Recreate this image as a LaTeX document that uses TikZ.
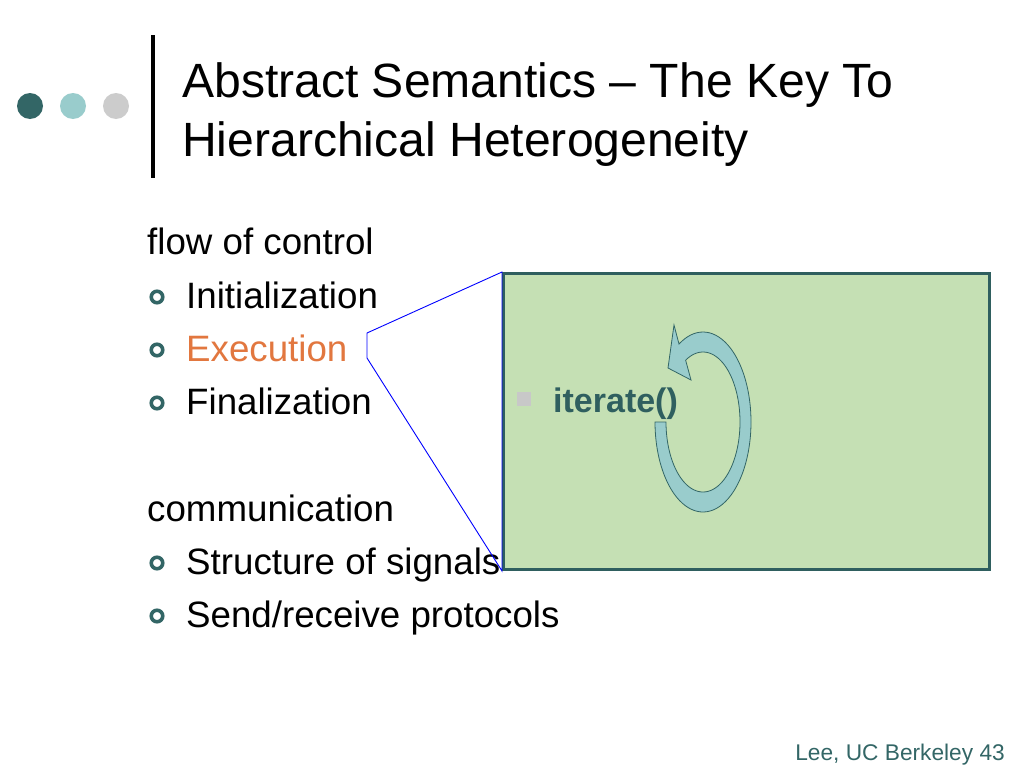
\documentclass[tikz,border=0pt]{standalone}
\usepackage{fontspec}
\setmainfont{Liberation Sans}
\begin{document}
\definecolor{tealdark}{HTML}{336666}
\definecolor{teallight}{HTML}{99CCCC}
\definecolor{dotgray}{HTML}{CCCCCC}
\definecolor{boxfill}{HTML}{C5E0B4}
\definecolor{boxline}{HTML}{2F5F5F}
\definecolor{execorange}{HTML}{E2773F}
\definecolor{sqgray}{HTML}{C8C8C8}
\begin{tikzpicture}[x=1pt,y=-1pt,
  dot/.style={circle,inner sep=0pt,minimum size=26pt},
  titletext/.style={anchor=base west,inner sep=0pt,font=\fontsize{48.1}{50}\selectfont},
  bodytext/.style={anchor=base west,inner sep=0pt,font=\fontsize{36.7}{40}\selectfont},
  hollowbullet/.style={circle,draw=tealdark,line width=3.6pt,inner sep=0pt,minimum size=11.5pt},
  callout/.style={draw=blue,line width=0.9pt},
]
\useasboundingbox (0,0) rectangle (1024,768);
\fill[white] (0,0) rectangle (1024,768);
% header dots and bar
\node[dot,fill=tealdark] (d1) at (30,106) {};
\node[dot,fill=teallight] (d2) at (73,106) {};
\node[dot,fill=dotgray] (d3) at (116,106) {};
\fill[black] (151,35) rectangle (155,178);
% title
\node[titletext] (t1) at (182,97) {Abstract Semantics – The Key To};
\node[titletext] (t2) at (182,156) {Hierarchical Heterogeneity};
% body
\node[bodytext] (flow) at (147,254) {flow of control};
\node[hollowbullet] (b1) at (157,297) {};
\node[bodytext] (init) at (186,308) {Initialization};
\node[hollowbullet] (b2) at (157,350) {};
\node[bodytext,text=execorange] (exec) at (186,361) {Execution};
\node[hollowbullet] (b3) at (157,403) {};
\node[bodytext] (fin) at (186,414) {Finalization};
\node[bodytext] (comm) at (147,521) {communication};
\node[hollowbullet] (b4) at (157,563) {};
\node[bodytext] (sig) at (186,574) {Structure of signals};
\node[hollowbullet] (b5) at (157,616) {};
\node[bodytext] (proto) at (186,627) {Send/receive protocols};
% box
\node[draw=boxline,fill=boxfill,line width=3pt,minimum width=486pt,minimum height=296pt,inner sep=0pt] (box) at (746.5,421.5) {};
% callout lines
\coordinate (c1) at (367,333);
\coordinate (c2) at (367,358);
\draw[callout] (box.north west) -- (c1) -- (c2) -- (box.south west) -- cycle;
% square bullet and iterate
\node[fill=sqgray,minimum size=14pt,inner sep=0pt] (sq) at (524,399) {};
\node[anchor=base west,inner sep=0pt,text=boxline,font=\fontsize{34}{38}\selectfont\bfseries] (it) at (553,412) {iterate()};
% circular arrow
\draw[fill=teallight,draw=tealdark,line width=0.8pt]
  plot[domain=180:-120,samples=80,smooth] ({703+48*cos(\x)},{422+90*sin(\x)})
  -- (674,325) -- (668,368) -- (691,380)
  -- plot[domain=-118:180,samples=80,smooth] ({703+37*cos(\x)},{422+70*sin(\x)})
  -- cycle;
% footer
\node[anchor=base east,inner sep=0pt,text=tealdark,font=\fontsize{22.7}{26}\selectfont] (foot) at (1005,760) {Lee, UC Berkeley 43};
\end{tikzpicture}
\end{document}
